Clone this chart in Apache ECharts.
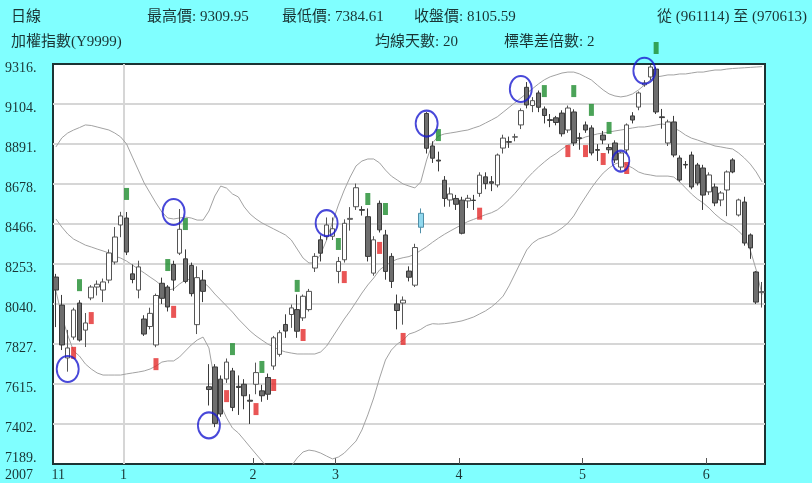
<!DOCTYPE html>
<html><head><meta charset="utf-8">
<script src="https://cdn.jsdelivr.net/npm/echarts@6/dist/echarts.min.js"></script>
<style>html,body{margin:0;padding:0;background:#80ffff;}#c{width:812px;height:483px;}</style>
</head><body><div id="c"></div>
<script>
// ---- data ----
const opens  = [8183,8034,7753,7864,8045,7901,8072,8130,8114,8167,8263,8460,8497,8200,8114,7960,7920,7822,8150,8130,
                8250,8310,8280,8245,7930,8167,7600,7705,7640,7641,7684,7602,7613,7528,7613,7578,7649,7710,7772,7931,
                7984,8010,7966,8010,8231,8381,8398,8400,8213,8275,8490,8557,8542,8504,8204,8575,8407,8293,8040,8045,
                8215,8140,8448,9053,8880,8805,8698,8593,8601,8592,8588,8592,8628,8716,8690,8673,8869,8903,8927,8992,
                9192,9095,9162,9077,9020,9030,9055,8965,9061,8924,8992,8976,8861,8938,8872,8896,8768,8859,9040,9087,
                9205,9247,9289,9035,8896,9008,8816,8782,8832,8779,8763,8636,8662,8593,8646,8806,8513,8582,8407,8210,8100];
const closes = [8114,7822,7806,8008,7848,7939,8130,8145,8157,8311,8396,8508,8316,8170,8237,7880,7990,8085,8070,8024,
                8167,8437,8160,8095,8180,8107,7585,7405,7455,7731,7490,7596,7552,7523,7675,7552,7560,7860,7887,7896,
                8019,7895,8081,8107,8293,8310,8460,8440,8266,8469,8495,8658,8538,8293,8381,8434,8213,8160,8005,8060,
                8182,8340,8522,8868,8815,8800,8601,8625,8570,8416,8602,8590,8725,8680,8682,8832,8922,8900,8929,9068,
                9098,9121,9086,9042,9016,9005,8945,9082,8896,8920,8965,8843,8857,8912,8860,8806,8843,8992,9018,9162,
                9215,9300,9061,9031,9008,8832,8699,8779,8662,8683,8619,8726,8577,8630,8742,8742,8593,8364,8338,8050,8105.59];
const lows   = [7917,7795,7680,7850,7840,7811,8060,8085,8050,8150,8250,8395,8300,8150,8070,7870,7905,7810,8040,8000,
                8110,8300,8150,8080,7880,8050,7500,7385,7440,7620,7470,7450,7480,7402,7560,7520,7530,7690,7760,7860,
                7913,7860,7950,8000,8210,8266,8380,8380,8150,8260,8430,8540,8510,8266,8190,8420,8169,8125,7905,7930,
                8160,8130,8416,8840,8790,8745,8557,8557,8540,8410,8550,8540,8610,8650,8640,8660,8840,8870,8905,8970,
                9080,9060,9060,9000,8980,8990,8930,8950,8880,8860,8950,8830,8800,8890,8840,8790,8750,8840,9000,9070,
                9195,9230,9050,8972,8880,8820,8690,8760,8650,8670,8540,8620,8560,8560,8507,8735,8505,8350,8280,8040,8021];
const highs  = [8200,8088,7902,8020,8060,7992,8140,8165,8175,8330,8449,8530,8529,8250,8270,7980,8020,8095,8180,8140,
                8270,8545,8330,8260,8240,8220,7720,7720,7660,7750,7700,7660,7640,7560,7728,7610,7670,7870,7900,7985,
                8037,8090,8090,8120,8310,8405,8500,8500,8290,8490,8555,8680,8560,8548,8400,8590,8434,8310,8090,8080,
                8240,8360,8548,9060,8905,8850,8720,8660,8620,8610,8620,8620,8740,8740,8720,8840,8940,8930,8945,9080,
                9220,9140,9175,9090,9050,9040,9070,9095,9075,8950,9010,8990,8890,8960,8890,8910,8850,9000,9060,9170,
                9230,9309.95,9300,9077,9020,9040,8830,8800,8850,8790,8780,8740,8680,8640,8750,8815,8600,8610,8415,8215,8157];
const upperBand = [8875,8923,8949,8965,8978,8992,8989,8981,8973,8965,8949,8928,8891,8821,8752,8683,8630,8577,8529,8497,
                8492,8497,8502,8497,8486,8486,8534,8614,8667,8656,8625,8609,8556,8518,8492,8471,8455,8439,8423,8407,
                8380,8332,8284,8258,8258,8306,8380,8476,8566,8646,8715,8774,8800,8811,8811,8790,8752,8720,8699,8678,
                8667,8657,8689,8806,8896,8933,8944,8949,8954,8960,8965,8976,8986,9002,9018,9035,9060,9085,9110,9135,
                9160,9185,9210,9232,9248,9258,9268,9273,9273,9263,9247,9231,9204,9178,9157,9146,9141,9146,9157,9178,
                9204,9231,9247,9252,9258,9258,9263,9263,9268,9273,9273,9279,9284,9284,9289,9292,9294,9296,9298,9300,9302];
const middleBand = [8492,8449,8412,8385,8369,8353,8343,8332,8322,8311,8295,8284,8268,8247,8226,8205,8183,8162,8136,8114,
                8120,8146,8167,8173,8167,8157,8130,8093,8061,8029,7997,7960,7928,7896,7870,7848,7827,7811,7795,7785,
                7779,7774,7774,7774,7774,7785,7816,7864,7912,7960,8003,8050,8098,8141,8178,8221,8245,8265,8278,8286,
                8292,8305,8325,8345,8368,8390,8410,8428,8445,8462,8478,8490,8502,8515,8525,8540,8565,8595,8628,8665,
                8705,8738,8768,8795,8820,8840,8864,8885,8900,8915,8928,8936,8944,8949,8954,8960,8965,8970,8976,8981,
                8981,8986,8992,8997,8992,8976,8960,8938,8922,8912,8901,8891,8880,8875,8869,8864,8843,8816,8784,8742,8689];
const lowerBand = [8109,7975,7875,7790,7763,7721,7694,7673,7662,7662,7662,7662,7668,7673,7678,7684,7694,7710,7731,7737,
                7737,7758,7790,7822,7848,7864,7806,7625,7503,7434,7380,7354,7317,7279,7242,7205,7168,7136,7125,7136,
                7178,7221,7253,7263,7258,7247,7231,7216,7226,7247,7279,7311,7370,7450,7540,7646,7742,7795,7827,7848,
                7880,7890,7905,7925,7935,7933,7935,7939,7944,7950,7960,7971,7987,8003,8024,8050,8082,8136,8199,8263,
                8327,8364,8385,8396,8407,8423,8444,8470,8508,8561,8609,8657,8699,8736,8763,8784,8795,8779,8763,8742,
                8731,8726,8720,8720,8720,8715,8689,8657,8625,8598,8577,8550,8518,8492,8471,8455,8428,8396,8327,8221,8088];
const buyIdx  = [4,12,19,22,30,35,41,48,53,56,65,83,88,91,94,102];
const buyVal  = [8140,8625,8247,8465,7800,7705,8136,8359,8598,8545,8938,9172,9172,9072,8976,9401];
const sellIdx = [3,6,17,20,29,34,37,42,49,55,59,72,87,90,93,97];
const sellVal = [7780,7965,7720,7998,7550,7481,7609,7875,8183,8338,7854,8520,8853,8853,8811,8763];
const circleIdx = [2,20,26,46,63,79,96,100];
const circleVal = [7694,8529,7394,8470,8999,9183,8800,9280];
const specialIdx = 62;               // light-blue candle
const yTicks = [7189,7402,7615,7827,8040,8253,8466,8678,8891,9104,9316];
const xLabelPos  = [0.9,12,34,48,69,90,111];
const xLabelText = ['11','1','2','3','4','5','6'];
const monthTickPos = [12,34,48,69,90,111];
const yearLinePos = 12;
const headerRow1 = [['日線',11],['最高價: 9309.95',147],['最低價: 7384.61',282],['收盤價: 8105.59',414]];
const headerRight = '從 (961114) 至 (970613)';
const headerRow2 = [['加權指數(Y9999)',11],['均線天數: 20',375],['標準差倍數: 2',504]];
const yearLabel = '2007';

// ---- chart ----
const categories = opens.map((_, i) => String(i + 1));
const candleData = opens.map((o, i) => {
  const v = [o, closes[i], lows[i], highs[i]];
  return i === specialIdx ? { value: v, itemStyle: { color: '#90d8ee', borderColor: '#4f8fa8', color0: '#90d8ee', borderColor0: '#4f8fa8' } } : v;
});
const serif = '"Liberation Serif","Times New Roman",serif';
const headFont = '15px "Liberation Serif","Noto Sans CJK TC",serif';
const txtColor = '#1a3434';

const chart = echarts.init(document.getElementById('c'), null, { renderer: 'canvas' });
const bandStyle = { color: '#a2a2a2', width: 1 };
const graphics = [];
headerRow1.forEach(([t, x]) => graphics.push({ type: 'text', x: x, y: 17, style: { text: t, font: headFont, fill: txtColor, verticalAlign: 'middle' } }));
graphics.push({ type: 'text', x: 807, y: 17, style: { text: headerRight, font: headFont, fill: txtColor, align: 'right', verticalAlign: 'middle' } });
headerRow2.forEach(([t, x]) => graphics.push({ type: 'text', x: x, y: 42, style: { text: t, font: headFont, fill: txtColor, verticalAlign: 'middle' } }));
graphics.push({ type: 'text', x: 5, y: 475, style: { text: yearLabel, font: '14px ' + serif, fill: txtColor, verticalAlign: 'middle' } });

chart.setOption({
  animation: false,
  backgroundColor: '#80ffff',
  grid: { left: 53, right: 47, top: 64, bottom: 19, show: true, backgroundColor: '#ffffff', borderColor: '#1c3434', borderWidth: 2 },
  xAxis: [
    { type: 'category', data: categories, boundaryGap: true,
      axisLine: { show: true, onZero: false, lineStyle: { color: '#1c3434', width: 2 } },
      axisTick: { show: false }, axisLabel: { show: false }, splitLine: { show: false } },
    { type: 'value', min: 0, max: categories.length, position: 'bottom',
      axisLine: { show: false }, splitLine: { show: false },
      axisTick: { show: true, inside: true, length: 6, customValues: monthTickPos, lineStyle: { color: '#555', width: 1 } },
      axisLabel: { show: true, customValues: xLabelPos, margin: 4, fontFamily: serif, fontSize: 14, color: txtColor,
        formatter: v => { const k = xLabelPos.indexOf(v); return k >= 0 ? xLabelText[k] : ''; } } }
  ],
  yAxis: { type: 'value', min: yTicks[0], max: yTicks[yTicks.length - 1], scale: true,
    axisLine: { show: false }, axisTick: { show: false }, splitLine: { show: false },
    axisLabel: { customValues: yTicks, margin: 48, align: 'left',
      formatter: v => (v === yTicks[0] ? '{b|' : '{a|') + v + '.}',
      rich: { a: { padding: [8, 0, 0, 0], fontFamily: serif, fontSize: 14, color: txtColor },
              b: { padding: [0, 0, 12, 0], fontFamily: serif, fontSize: 14, color: txtColor } } } },
  graphic: { elements: graphics },
  series: [
    { type: 'line', xAxisIndex: 1, data: [[0, yTicks[0]]], symbol: 'none', lineStyle: { opacity: 0 }, silent: true, z: 1,
      markLine: { silent: true, z: 1, symbol: ['none', 'none'], label: { show: false },
        lineStyle: { color: '#d6d6d6', width: 2, type: 'solid' },
        data: yTicks.slice(1, -1).map(v => ({ yAxis: v })).concat([{ xAxis: yearLinePos }]) } },
    { type: 'line', data: upperBand, symbol: 'none', lineStyle: bandStyle, z: 2, silent: true },
    { type: 'line', data: middleBand, symbol: 'none', lineStyle: bandStyle, z: 2, silent: true },
    { type: 'line', data: lowerBand, symbol: 'none', lineStyle: bandStyle, z: 2, silent: true },
    { type: 'candlestick', data: candleData, barWidth: 5, z: 3,
      itemStyle: { color: '#ffffff', color0: '#6e6e6e', borderColor: '#555555', borderColor0: '#3a3a3a', borderWidth: 1 } },
    { type: 'scatter', data: buyIdx.map((i, k) => [i, buyVal[k]]), symbol: 'rect', symbolSize: [5, 12], clip: false, z: 4,
      itemStyle: { color: '#1e8c2e' } },
    { type: 'scatter', data: sellIdx.map((i, k) => [i, sellVal[k]]), symbol: 'rect', symbolSize: [5, 12], clip: false, z: 4,
      itemStyle: { color: '#e42a2a' } },
    { type: 'scatter', data: circleIdx.map((i, k) => [i, circleVal[k]]), symbol: 'circle', clip: false, z: 5,
      symbolSize: (v, p) => p.dataIndex === 6 ? [17, 21] : [22, 26],
      itemStyle: { color: 'rgba(0,0,0,0)', borderColor: '#1a1ad0', borderWidth: 2 } }
  ]
});
</script></body></html>
